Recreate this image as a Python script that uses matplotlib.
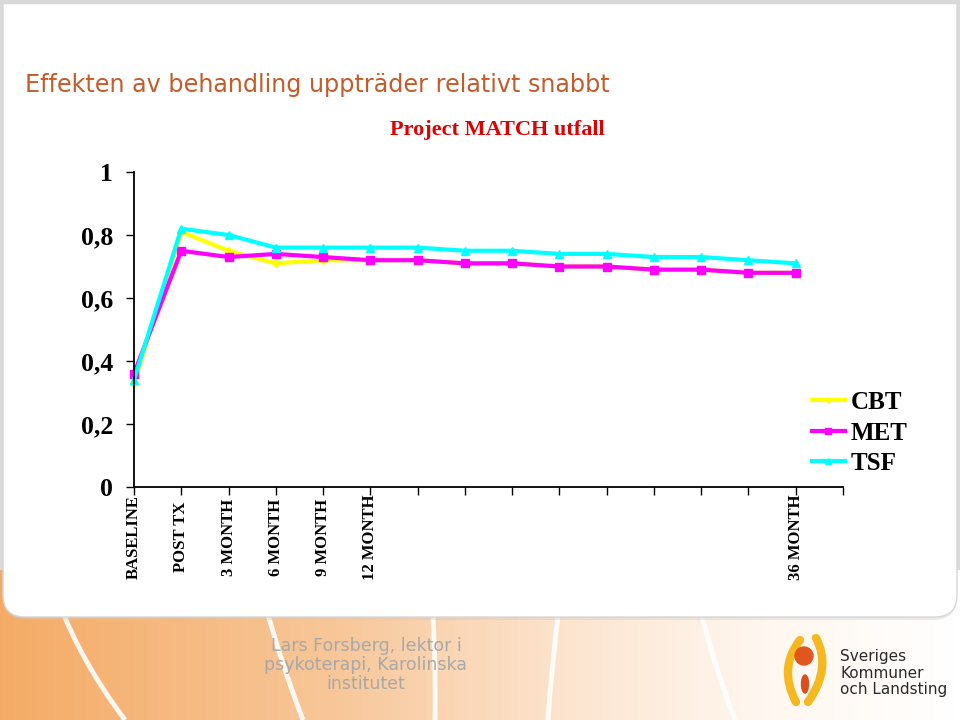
import numpy as np
import matplotlib.pyplot as plt
from matplotlib.patches import FancyBboxPatch, Circle, Ellipse, PathPatch
from matplotlib.path import Path

# data
timepoints = ["BASELINE", "POST TX", "3 MONTH", "6 MONTH", "9 MONTH", "12 MONTH",
              "", "", "", "", "", "", "", "", "36 MONTH"]
cbt = [0.33, 0.81, 0.75, 0.71, 0.72, 0.72, 0.72, 0.71, 0.71, 0.70, 0.70, 0.69, 0.69, 0.68, 0.68]
met = [0.36, 0.75, 0.73, 0.74, 0.73, 0.72, 0.72, 0.71, 0.71, 0.70, 0.70, 0.69, 0.69, 0.68, 0.68]
tsf = [0.34, 0.82, 0.80, 0.76, 0.76, 0.76, 0.76, 0.75, 0.75, 0.74, 0.74, 0.73, 0.73, 0.72, 0.71]
yticks = [0, 0.2, 0.4, 0.6, 0.8, 1]

SERIF = "Liberation Serif"

fig = plt.figure(figsize=(9.6, 7.2), dpi=100)
fig.patch.set_facecolor("#DADADA")

# slide background (pixel coords)
bg = fig.add_axes([0, 0, 1, 1])
bg.set_xlim(0, 960); bg.set_ylim(720, 0); bg.axis("off")

# orange footer gradient
gx = np.linspace(0, 1, 480)
stops = [0, 0.35, 0.6, 0.8, 1.0]
cols = np.array([[0.96, 0.67, 0.40], [0.97, 0.78, 0.60], [0.99, 0.90, 0.82],
                 [1.0, 0.97, 0.94], [1.0, 1.0, 1.0]])
grad = np.stack([np.interp(gx, stops, cols[:, i]) for i in range(3)], axis=-1)[None, :, :]
bg.imshow(grad, extent=[0, 960, 720, 570], aspect="auto", zorder=0)

# white swooshes in the footer
for (x0, x1, x2) in [(58, 80, 125), (264, 280, 303), (432, 436, 435), (560, 552, 548), (698, 712, 735)]:
    p = Path([(x0, 600), (x1, 660), (x2, 720)], [Path.MOVETO, Path.CURVE3, Path.CURVE3])
    bg.add_patch(PathPatch(p, fc="none", ec="white", lw=3.5, alpha=0.9, zorder=1))

# white rounded content panel
bg.add_patch(FancyBboxPatch((4, -40), 952, 660, boxstyle="round,pad=0,rounding_size=22",
                            fc="#C8C8C8", ec="none", alpha=0.35, zorder=2))
bg.add_patch(FancyBboxPatch((3, -40), 954, 657, boxstyle="round,pad=0,rounding_size=22",
                            fc="white", ec="#D6D6D6", lw=1, zorder=3))
bg.axhspan(0, 3, color="#D8D8D8", zorder=4)

# slide title
bg.text(25, 85, "Effekten av behandling uppträder relativt snabbt", ha="left", va="center",
        fontsize=17.2, color="#C65A28", family="DejaVu Sans", zorder=5)

# footer text
bg.text(366, 665, "Lars Forsberg, lektor i\npsykoterapi, Karolinska\ninstitutet", ha="center",
        va="center", fontsize=12.5, color="#A8A8A8", linespacing=1.1, zorder=5)

# logo (simplified)
for pts in [[(800, 640), (778, 668), (796, 702)], [(816, 638), (832, 668), (808, 702)]]:
    p = Path(pts, [Path.MOVETO, Path.CURVE3, Path.CURVE3])
    bg.add_patch(PathPatch(p, fc="none", ec="#F6B820", lw=6, capstyle="round", zorder=5))
bg.add_patch(Circle((804, 656), 9, color="#E0561C", zorder=6))
bg.add_patch(Ellipse((805, 684), 7, 18, color="#D94F1E", zorder=6))
bg.text(840, 673, "Sveriges\nKommuner\noch Landsting", ha="left", va="center",
        fontsize=11, color="#2A2A2A", linespacing=1.1, zorder=6)

# chart
ax = fig.add_axes([134 / 960, 1 - 487 / 720, (843 - 134) / 960, (487 - 172) / 720])
ax.patch.set_alpha(0)
x = np.arange(len(timepoints))
ax.plot(x, cbt, color="#FFFF00", lw=3, marker="D", ms=4, clip_on=False, label="CBT")
ax.plot(x, met, color="#FF00FF", lw=3, marker="s", ms=6, clip_on=False, label="MET")
ax.plot(x, tsf, color="#00FFFF", lw=3, marker="^", ms=6, clip_on=False, label="TSF")

ax.set_xlim(0, len(timepoints))
ax.set_ylim(0, 1)
for s in ["top", "right"]:
    ax.spines[s].set_visible(False)
for s in ["left", "bottom"]:
    ax.spines[s].set_linewidth(1.3)

ax.set_yticks(yticks)
ax.set_yticklabels([f"{v:g}".replace(".", ",") for v in yticks],
                   family=SERIF, fontweight="bold", fontsize=18.5)
ax.set_xticks(range(len(timepoints) + 1))
ax.set_xticklabels(timepoints + [""], rotation=90, family=SERIF, fontweight="bold", fontsize=12)
for lab in ax.get_xticklabels():
    lab.set_verticalalignment("center")
ax.tick_params(axis="x", direction="out", length=6, width=1, pad=30)
ax.tick_params(axis="y", direction="out", length=6, width=1, pad=9)

fig.text(497 / 960, 1 - 130 / 720, "Project MATCH utfall", ha="center", va="center",
         color="#E00000", fontsize=16, fontweight="bold", family=SERIF)

ax.legend(loc="center left", bbox_to_anchor=(812 / 960, 1 - 433 / 720), bbox_transform=fig.transFigure,
          frameon=False, prop=dict(family=SERIF, weight="bold", size=18),
          handlelength=1.3, handletextpad=0.25, labelspacing=0.3, borderpad=0, borderaxespad=0,
          markerscale=0.7)

fig.savefig("out.png", dpi=100)
